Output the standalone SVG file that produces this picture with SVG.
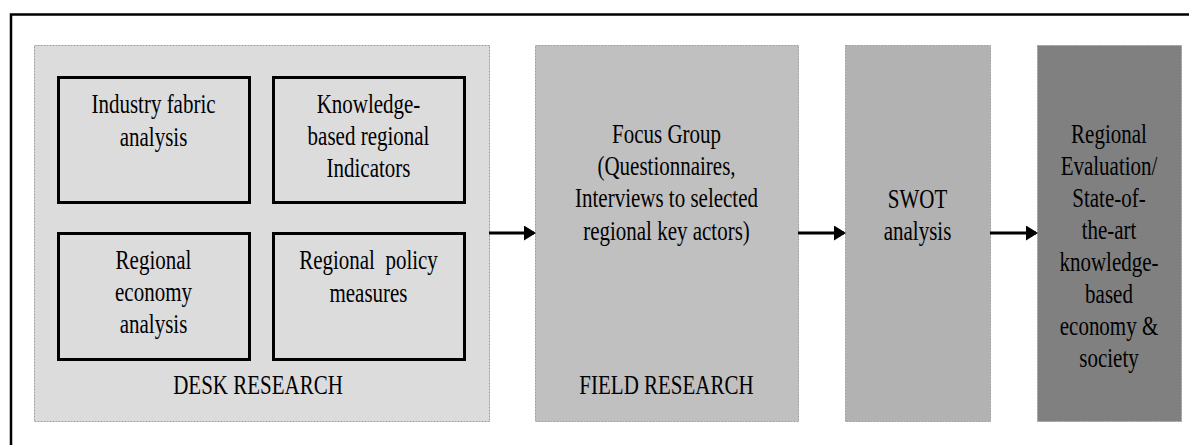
<svg xmlns="http://www.w3.org/2000/svg" width="1189" height="445" viewBox="0 0 1189 445">
<defs>
<style>
text{font-family:'Liberation Serif',serif;font-size:21px;fill:#000;text-anchor:middle}
.panel{stroke:#9a9a9a;stroke-width:1;stroke-dasharray:2 1}
.box{fill:none;stroke:#000;stroke-width:3}
.conn{stroke:#000;stroke-width:3;fill:none}
</style>
<marker id="ah" markerWidth="12" markerHeight="15" refX="10" refY="7.5" orient="auto" markerUnits="userSpaceOnUse">
<path d="M0,0 L12,7.5 L0,15 Z" fill="#000"/>
</marker>
</defs>
<rect width="1189" height="445" fill="#fff"/>
<path d="M11,445 V14.5 H1189" fill="none" stroke="#000" stroke-width="2.5"/>

<g id="desk">
<rect class="panel" x="34.5" y="45.5" width="455" height="376" fill="#dcdcdc"/>
<text transform="translate(258,394) scale(1,1.29)">DESK RESEARCH</text>
</g>
<g id="n1">
<rect class="box" x="58.5" y="77.5" width="191" height="125"/>
<text transform="translate(153.5,113) scale(1,1.29)"><tspan x="0">Industry fabric</tspan><tspan x="0" dy="25.2">analysis</tspan></text>
</g>
<g id="n2">
<rect class="box" x="273.5" y="77.5" width="191" height="125"/>
<text transform="translate(368.5,113) scale(1,1.29)"><tspan x="0">Knowledge-</tspan><tspan x="0" dy="24.8">based regional</tspan><tspan x="0" dy="24.8">Indicators</tspan></text>
</g>
<g id="n3">
<rect class="box" x="58.5" y="233.5" width="191" height="126"/>
<text transform="translate(153.5,269) scale(1,1.29)"><tspan x="0">Regional</tspan><tspan x="0" dy="24.8">economy</tspan><tspan x="0" dy="24.8">analysis</tspan></text>
</g>
<g id="n4">
<rect class="box" x="273.5" y="233.5" width="191" height="126"/>
<text transform="translate(368.5,269) scale(1,1.29)" xml:space="preserve"><tspan x="0">Regional  policy</tspan><tspan x="0" dy="25.2">measures</tspan></text>
</g>
<g id="field">
<rect class="panel" x="535.5" y="45.5" width="263" height="376" fill="#c0c0c0"/>
<text transform="translate(666.5,143) scale(1,1.29)"><tspan x="0">Focus Group</tspan><tspan x="0" dy="25">(Questionnaires,</tspan><tspan x="0" dy="25">Interviews to selected</tspan><tspan x="0" dy="25">regional key actors)</tspan></text>
<text transform="translate(666.5,394) scale(1,1.29)">FIELD RESEARCH</text>
</g>
<g id="swot">
<rect class="panel" x="845.5" y="45.5" width="145" height="376" fill="#b2b2b2"/>
<text transform="translate(917.5,208) scale(1,1.29)"><tspan x="0">SWOT</tspan><tspan x="0" dy="25">analysis</tspan></text>
</g>
<g id="eval">
<rect class="panel" x="1037.5" y="45.5" width="144" height="376" fill="#808080"/>
<text transform="translate(1109,143) scale(1,1.29)"><tspan x="0">Regional</tspan><tspan x="0" dy="24.8">Evaluation/</tspan><tspan x="0" dy="24.8">State-of-</tspan><tspan x="0" dy="24.8">the-art</tspan><tspan x="0" dy="24.8">knowledge-</tspan><tspan x="0" dy="24.8">based</tspan><tspan x="0" dy="24.8">economy &amp;</tspan><tspan x="0" dy="24.8">society</tspan></text>
</g>
<g id="connectors">
<line class="conn" x1="489" y1="233" x2="534" y2="233" marker-end="url(#ah)"/>
<line class="conn" x1="798" y1="233" x2="844" y2="233" marker-end="url(#ah)"/>
<line class="conn" x1="990" y1="233" x2="1036" y2="233" marker-end="url(#ah)"/>
</g>
</svg>
